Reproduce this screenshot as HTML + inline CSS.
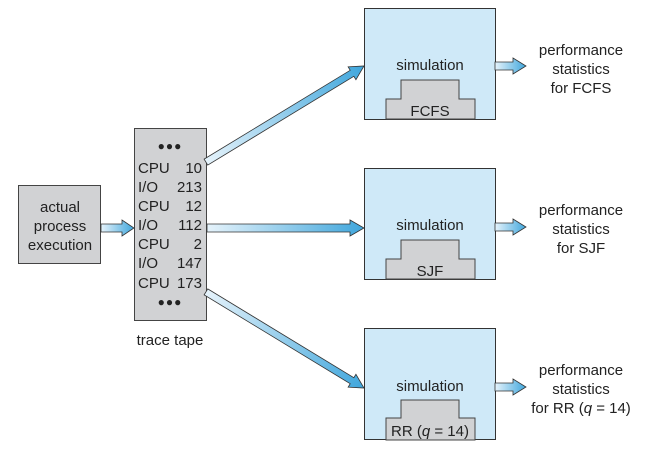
<!DOCTYPE html>
<html><head><style>
body{margin:0;background:#fff;}
svg text{font-family:"Liberation Sans",sans-serif;fill:#222;}
</style></head><body>
<svg width="657" height="461" viewBox="0 0 657 461" xmlns="http://www.w3.org/2000/svg">
<defs>
<linearGradient id="g" x1="0" y1="0" x2="1" y2="0">
<stop offset="0" stop-color="#e6f3fb"/><stop offset="1" stop-color="#3fa6dc"/>
</linearGradient>
</defs>
<rect x="18.5" y="185.5" width="82" height="78" fill="#d1d2d4" stroke="#444"/>
<text x="60" y="212" font-size="15" text-anchor="middle">actual</text>
<text x="60" y="231" font-size="15" text-anchor="middle">process</text>
<text x="60" y="250" font-size="15" text-anchor="middle">execution</text>
<g transform="translate(134,228)"><polygon points="-33,-4 -12,-4 -12,-8 0,0 -12,8 -12,4 -33,4" fill="url(#g)" stroke="#333" stroke-width="0.8"/></g>
<rect x="134.5" y="128.5" width="72" height="192" fill="#d1d2d4" stroke="#444"/>
<text x="170" y="150" font-size="12" text-anchor="middle" letter-spacing="1">●●●</text>
<g font-size="15">
<text x="138" y="173">CPU</text><text x="202" y="173" text-anchor="end">10</text>
<text x="138" y="192">I/O</text><text x="202" y="192" text-anchor="end">213</text>
<text x="138" y="211">CPU</text><text x="202" y="211" text-anchor="end">12</text>
<text x="138" y="230">I/O</text><text x="202" y="230" text-anchor="end">112</text>
<text x="138" y="249">CPU</text><text x="202" y="249" text-anchor="end">2</text>
<text x="138" y="268">I/O</text><text x="202" y="268" text-anchor="end">147</text>
<text x="138" y="288">CPU</text><text x="202" y="288" text-anchor="end">173</text>
</g>
<text x="170" y="306" font-size="12" text-anchor="middle" letter-spacing="1">●●●</text>
<text x="170" y="345" font-size="15" text-anchor="middle">trace tape</text>
<g transform="translate(364,66) rotate(-31.3)"><polygon points="-185,-3.5 -14,-3.5 -14,-7.5 0,0 -14,7.5 -14,3.5 -185,3.5" fill="url(#g)" stroke="#333" stroke-width="0.8"/></g>
<g transform="translate(364,228)"><polygon points="-157,-4 -14,-4 -14,-8 0,0 -14,8 -14,4 -157,4" fill="url(#g)" stroke="#333" stroke-width="0.8"/></g>
<g transform="translate(364,388) rotate(31.3)"><polygon points="-185,-3.5 -14,-3.5 -14,-7.5 0,0 -14,7.5 -14,3.5 -185,3.5" fill="url(#g)" stroke="#333" stroke-width="0.8"/></g>
<g>
<rect x="364.5" y="8.5" width="131" height="111" fill="#cfe9f8" stroke="#333"/>
<text x="430" y="70" font-size="15" text-anchor="middle">simulation</text>
<polygon points="386,119 386,99 401,99 401,80 459,80 459,99 475,99 475,119" fill="#d1d2d4" stroke="#444"/>
<text x="430" y="116" font-size="15" text-anchor="middle">FCFS</text>
</g>
<g>
<rect x="364.5" y="168.5" width="131" height="111" fill="#cfe9f8" stroke="#333"/>
<text x="430" y="230" font-size="15" text-anchor="middle">simulation</text>
<polygon points="386,279 386,259 401,259 401,240 459,240 459,259 475,259 475,279" fill="#d1d2d4" stroke="#444"/>
<text x="430" y="276" font-size="15" text-anchor="middle">SJF</text>
</g>
<g>
<rect x="364.5" y="328.5" width="131" height="111" fill="#cfe9f8" stroke="#333"/>
<text x="430" y="391" font-size="15" text-anchor="middle">simulation</text>
<polygon points="386,440 386,418 401,418 401,400 459,400 459,418 475,418 475,440" fill="#d1d2d4" stroke="#444"/>
<text x="430" y="436" font-size="15" text-anchor="middle">RR (<tspan font-style="italic">q</tspan> = 14)</text>
</g>
<g transform="translate(526,66)"><polygon points="-31,-4 -13,-4 -13,-8 0,0 -13,8 -13,4 -31,4" fill="url(#g)" stroke="#333" stroke-width="0.8"/></g>
<g transform="translate(526,227)"><polygon points="-31,-4 -13,-4 -13,-8 0,0 -13,8 -13,4 -31,4" fill="url(#g)" stroke="#333" stroke-width="0.8"/></g>
<g transform="translate(526,387)"><polygon points="-31,-4 -13,-4 -13,-8 0,0 -13,8 -13,4 -31,4" fill="url(#g)" stroke="#333" stroke-width="0.8"/></g>
<g font-size="15" text-anchor="middle">
<text x="581" y="55">performance</text><text x="581" y="74">statistics</text><text x="581" y="93">for FCFS</text>
<text x="581" y="215">performance</text><text x="581" y="234">statistics</text><text x="581" y="253">for SJF</text>
<text x="581" y="375">performance</text><text x="581" y="394">statistics</text><text x="581" y="413">for RR (<tspan font-style="italic">q</tspan> = 14)</text>
</g>
</svg>
</body></html>
